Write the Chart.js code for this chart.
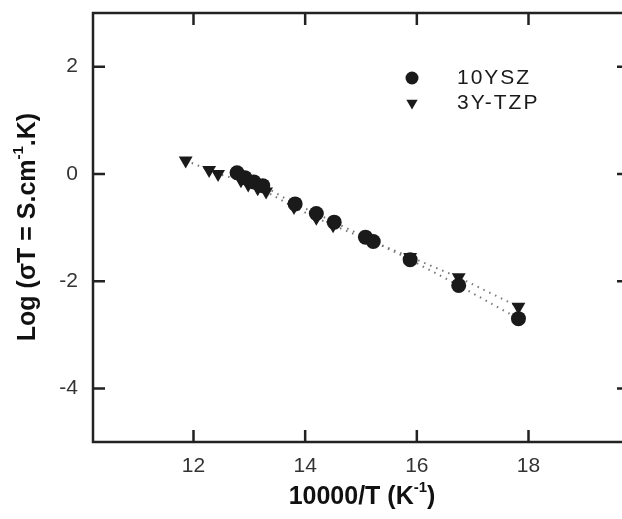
<!DOCTYPE html>
<html>
<head>
<meta charset="utf-8">
<script src="https://cdn.jsdelivr.net/npm/chart.js@4.4.0/dist/chart.umd.min.js"></script>
<style>
  html, body { margin: 0; padding: 0; background: #fff; overflow: hidden; }
  #wrap { width: 650px; height: 519px; }
</style>
</head>
<body>
<div id="wrap"><canvas id="grafico" width="650" height="519"></canvas></div>
<script>
// dados
const seriesNames = ['10YSZ', '3Y-TZP'];

// 10YSZ (círculos)
const yszX = [12.78, 12.92, 13.08, 13.24, 13.82, 14.20, 14.52, 15.08, 15.22, 15.88, 16.75, 17.82];
const yszY = [0.02, -0.07, -0.15, -0.22, -0.56, -0.74, -0.90, -1.18, -1.26, -1.60, -2.08, -2.70];

// 3Y-TZP (triângulos)
const tzpX = [11.86, 12.28, 12.44, 12.85, 12.98, 13.15, 13.30, 13.80, 14.20, 14.50, 15.88, 16.75, 17.82];
const tzpY = [0.25, 0.07, 0.00, -0.12, -0.20, -0.27, -0.33, -0.62, -0.82, -0.96, -1.55, -1.93, -2.48];

const xTicks = [12, 14, 16, 18];
const yTicks = [-4, -2, 0, 2];

const corPonto = '#1a1a1a';
const corLinha = '#777';

function pontos(xs, ys) {
    return xs.map((x, i) => ({ x: x, y: ys[i] }));
}

// texto com expoente (ex.: cm-1)
function textoSup(ctx, partes, size, x, y, vertical) {
    ctx.save();
    ctx.translate(x, y);
    if (vertical) ctx.rotate(-Math.PI / 2);
    let total = 0;
    partes.forEach(p => {
        ctx.font = 'bold ' + (p[1] ? Math.round(size * 0.6) : size) + 'px "Liberation Sans", Arial, sans-serif';
        total += ctx.measureText(p[0]).width;
    });
    let cx = -total / 2;
    ctx.textBaseline = 'middle';
    ctx.textAlign = 'left';
    ctx.fillStyle = '#111';
    partes.forEach(p => {
        ctx.font = 'bold ' + (p[1] ? Math.round(size * 0.6) : size) + 'px "Liberation Sans", Arial, sans-serif';
        ctx.fillText(p[0], cx, p[1] ? -size * 0.35 : 0);
        cx += ctx.measureText(p[0]).width;
    });
    ctx.restore();
}

function marcador(ctx, estilo, x, y, r) {
    ctx.beginPath();
    if (estilo === 'circle') {
        ctx.arc(x, y, r, 0, Math.PI * 2);
    } else {
        ctx.moveTo(x - r * 0.87, y - r * 0.5);
        ctx.lineTo(x + r * 0.87, y - r * 0.5);
        ctx.lineTo(x, y + r);
        ctx.closePath();
    }
    ctx.fillStyle = corPonto;
    ctx.fill();
}

// moldura, ticks internos, legenda e títulos
const moldura = {
    id: 'moldura',
    afterDraw(chart) {
        const ctx = chart.ctx;
        const a = chart.chartArea;
        const sx = chart.scales.x, sy = chart.scales.y;
        const tl = 12;
        ctx.save();
        ctx.strokeStyle = '#222';
        ctx.lineWidth = 2.5;
        ctx.strokeRect(a.left, a.top, a.right - a.left, a.bottom - a.top);
        ctx.beginPath();
        xTicks.forEach(v => {
            const px = sx.getPixelForValue(v);
            ctx.moveTo(px, a.bottom); ctx.lineTo(px, a.bottom - tl);
            ctx.moveTo(px, a.top); ctx.lineTo(px, a.top + tl);
        });
        yTicks.forEach(v => {
            const py = sy.getPixelForValue(v);
            ctx.moveTo(a.left, py); ctx.lineTo(a.left + tl, py);
            ctx.moveTo(a.right, py); ctx.lineTo(a.right - tl, py);
        });
        ctx.stroke();

        // legenda
        ctx.font = '21px "Liberation Sans", Arial, sans-serif';
        ctx.letterSpacing = '2px';
        ctx.textBaseline = 'middle';
        ctx.textAlign = 'left';
        ctx.fillStyle = '#222';
        const estilos = ['circle', 'triangle'];
        seriesNames.forEach((nome, i) => {
            const ly = 78 + i * 25;
            marcador(ctx, estilos[i], 412, ly, 6.5);
            ctx.fillText(nome, 457, ly);
        });
        ctx.letterSpacing = '0px';
        ctx.restore();

        textoSup(ctx, [['10000/T (K', false], ['-1', true], [')', false]], 25, 362, 497, false);
        textoSup(ctx, [['Log (\u03C3T = S.cm', false], ['-1', true], ['.K)', false]], 25, 28, 227, true);
    }
};

const ctx = document.getElementById('grafico');

new Chart(ctx, {
    type: 'scatter',
    data: {
        datasets: [{
            label: seriesNames[0],
            data: pontos(yszX, yszY),
            showLine: true,
            borderColor: corLinha,
            borderWidth: 2,
            borderDash: [1.5, 5],
            pointStyle: 'circle',
            pointRadius: 7.5,
            pointBackgroundColor: corPonto,
            pointBorderColor: corPonto,
            pointBorderWidth: 0
        }, {
            label: seriesNames[1],
            data: pontos(tzpX, tzpY),
            showLine: true,
            borderColor: corLinha,
            borderWidth: 2,
            borderDash: [1.5, 5],
            pointStyle: 'triangle',
            rotation: 180,
            pointRadius: 8,
            pointBackgroundColor: corPonto,
            pointBorderColor: corPonto,
            pointBorderWidth: 0
        }]
    },
    options: {
        responsive: false,
        animation: false,
        layout: { padding: { top: 13, right: 21, left: 0, bottom: 0 } },
        plugins: {
            legend: { display: false },
            tooltip: { enabled: false }
        },
        scales: {
            x: {
                type: 'linear',
                min: 10.2,
                max: 19.8,
                afterBuildTicks: s => { s.ticks = xTicks.map(v => ({ value: v })); },
                afterFit: s => { s.height = 77; s.paddingLeft = 0; s.paddingRight = 0; },
                grid: { display: false, drawTicks: false },
                border: { display: false },
                ticks: {
                    color: '#333',
                    padding: 12,
                    maxRotation: 0,
                    font: { family: '"Liberation Sans", Arial, sans-serif', size: 21 }
                }
            },
            y: {
                min: -5,
                max: 3,
                afterBuildTicks: s => { s.ticks = yTicks.map(v => ({ value: v })); },
                afterFit: s => { s.width = 93; s.paddingTop = 0; s.paddingBottom = 0; },
                grid: { display: false, drawTicks: false },
                border: { display: false },
                ticks: {
                    color: '#333',
                    padding: 15,
                    font: { family: '"Liberation Sans", Arial, sans-serif', size: 21 }
                }
            }
        }
    },
    plugins: [moldura]
});
</script>
</body>
</html>
